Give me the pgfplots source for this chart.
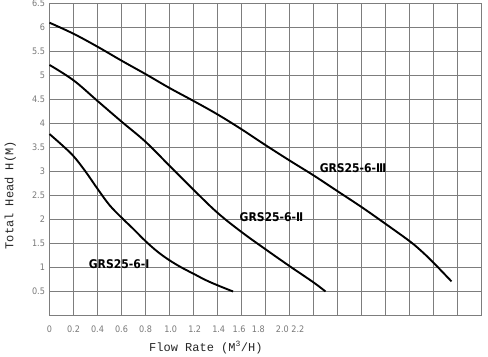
\documentclass[border=0pt]{standalone}
\usepackage{pgfplots}
\pgfplotsset{compat=1.18}
\usepackage{fontspec}
\setmainfont{Liberation Sans}
\newfontfamily\titlefont{Liberation Mono}
\newfontfamily\curvefont{DejaVu Sans Condensed}
\newfontfamily\tickfont{DejaVu Sans Condensed}
\definecolor{gridc}{RGB}{125,125,125}
\definecolor{tickc}{RGB}{120,120,120}
\begin{document}
\begin{tikzpicture}
\useasboundingbox (-49.5pt,-41pt) rectangle (438.5pt,315.5pt);
\begin{axis}[
  scale only axis,
  width=432pt, height=312pt,
  xmin=0, xmax=3.6, ymin=0, ymax=6.5,
  xtick={0,0.2,...,3.6},
  xticklabels={},
  ytick={0.5,1,...,6.5},
  yticklabels={0.5,1,1.5,2,2.5,3,3.5,4,4.5,5,5.5,6,6.5},
  extra x ticks={0,0.2,0.4,0.6,0.8,1.01,1.21,1.41,1.58,1.74,1.94,2.07},
  extra x tick labels={0,0.2,0.4,0.6,0.8,1.0,1.2,1.4,1.6,1.8,2.0,2.2},
  extra x tick style={grid=none, major tick length=0pt},
  grid=major,
  major grid style={draw=gridc, line width=0.8pt},
  axis line style={draw=gridc, line width=0.8pt},
  major tick length=0pt,
  xticklabel style={font=\tickfont\fontsize{9}{10}\selectfont, text=tickc, yshift=-7pt},
  yticklabel style={font=\tickfont\fontsize{9}{10}\selectfont, text=tickc, xshift=-1pt},
  /pgf/number format/assume math mode=true,
  xlabel={Flow Rate (M\textsuperscript{3}/H)},
  ylabel={Total Head H(M)},
  every axis x label/.style={at={(axis description cs:0.362,-0.103)}, anchor=center, font=\titlefont\fontsize{12}{14}\selectfont, text=black!85},
  every axis y label/.style={at={(axis description cs:-0.091,0.385)}, rotate=90, anchor=center, font=\titlefont\fontsize{12}{14}\selectfont, text=black!85},
  clip=false,
]
\addplot[black, line width=1.9pt, smooth, tension=0.6] coordinates {
(0,3.78) (0.1,3.56) (0.2,3.32) (0.3,3.0) (0.4,2.64) (0.5,2.3) (0.6,2.04) (0.7,1.8) (0.8,1.55) (0.9,1.33) (1.0,1.15) (1.1,1.0) (1.2,0.87) (1.3,0.74) (1.4,0.63) (1.53,0.5)};
\addplot[black, line width=1.9pt, smooth, tension=0.6] coordinates {
(0,5.22) (0.2,4.9) (0.4,4.47) (0.6,4.04) (0.8,3.62) (1.0,3.12) (1.2,2.62) (1.4,2.14) (1.6,1.74) (1.8,1.38) (2.0,1.03) (2.2,0.69) (2.3,0.5)};
\addplot[black, line width=1.9pt, smooth, tension=0.6] coordinates {
(0,6.1) (0.2,5.87) (0.4,5.6) (0.6,5.31) (0.8,5.03) (1.0,4.74) (1.2,4.47) (1.4,4.19) (1.6,3.88) (1.8,3.55) (2.0,3.23) (2.2,2.92) (2.4,2.59) (2.6,2.26) (2.8,1.91) (3.0,1.55) (3.1,1.34) (3.2,1.1) (3.35,0.71)};
\node[font=\curvefont\bfseries\fontsize{12}{13}\selectfont] at (axis cs:0.58,1.08) {GRS25-6-Ⅰ};
\node[font=\curvefont\bfseries\fontsize{12}{13}\selectfont] at (axis cs:1.85,2.04) {GRS25-6-Ⅱ};
\node[font=\curvefont\bfseries\fontsize{12}{13}\selectfont] at (axis cs:2.53,3.06) {GRS25-6-Ⅲ};
\end{axis}
\end{tikzpicture}
\end{document}
